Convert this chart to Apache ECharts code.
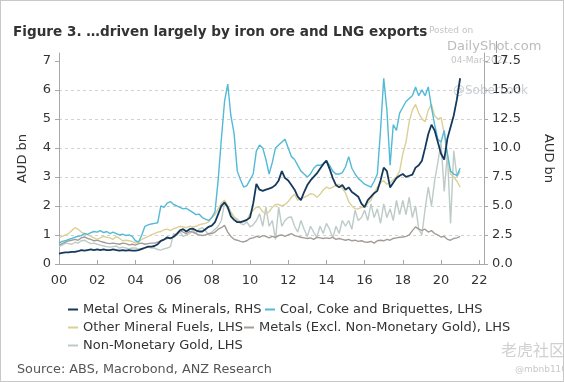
<!DOCTYPE html>
<html><head><meta charset="utf-8">
<script src="https://cdn.jsdelivr.net/npm/echarts@6/dist/echarts.min.js"></script>
<style>
html,body{margin:0;padding:0;background:#fff;}
#wrap{position:absolute;left:0;top:0;width:562px;height:380px;border:1px solid #c8c8c8;}
#c{width:562px;height:380px;}
</style></head><body>
<div id="wrap"><div id="c"></div></div>
<script>
// Bimonthly observations, Jan 2000 .. Jan 2021 (6 per year)
const startYear = 2000;
const perYear = 6;
const xTicks = [2000,2002,2004,2006,2008,2010,2012,2014,2016,2018,2020,2022];
const leftTicks = [0,1,2,3,4,5,6,7];
const rightTicks = [0,2.5,5,7.5,10,12.5,15,17.5];

// Metal Ores & Minerals, RHS (AUD bn)
const metalOres = [
 0.9,0.95,1.0,1.0,1.05,1.05,
 1.1,1.2,1.15,1.2,1.25,1.2,
 1.25,1.2,1.25,1.2,1.2,1.25,
 1.2,1.15,1.2,1.15,1.2,1.15,
 1.15,1.2,1.3,1.4,1.5,1.5,
 1.55,1.7,2.0,2.1,2.3,2.2,
 2.35,2.6,2.9,3.0,2.8,3.0,
 3.05,2.9,2.8,2.8,3.0,3.2,
 3.3,3.6,4.3,5.0,5.3,4.9,
 4.1,3.8,3.6,3.6,3.7,3.8,
 4.0,5.2,6.9,6.4,6.3,6.4,
 6.5,6.6,6.8,7.2,8.0,7.4,
 7.2,6.8,6.4,5.8,5.5,6.2,
 6.8,7.2,7.5,7.8,8.2,8.6,
 8.9,8.2,7.4,6.8,6.6,6.8,
 6.4,6.6,6.2,6.0,5.8,5.2,
 4.9,5.5,5.8,6.1,6.3,7.2,
 8.3,8.0,6.6,7.0,7.4,7.6,
 7.75,7.5,7.6,7.7,8.3,8.5,
 8.9,10.0,11.2,12.0,11.5,10.5,
 9.5,9.0,10.8,11.8,12.8,14.2,
 16.0];
// Coal, Coke and Briquettes, LHS
const coal = [
 0.72,0.78,0.80,0.85,0.88,0.92,
 0.95,0.98,1.05,1.02,1.08,1.12,
 1.10,1.15,1.08,1.12,1.05,1.10,
 1.05,1.00,1.03,0.98,1.00,0.95,
 0.80,0.76,1.00,1.30,1.35,1.38,
 1.40,1.42,2.00,1.95,2.10,2.15,
 2.05,2.00,1.95,1.90,1.92,1.85,
 1.78,1.70,1.72,1.60,1.55,1.50,
 1.60,1.80,2.90,4.30,5.60,6.20,
 5.10,4.50,3.20,2.90,2.65,2.70,
 2.90,3.10,3.90,4.10,4.00,3.60,
 3.10,3.50,4.00,4.10,4.20,4.30,
 4.00,3.70,3.60,3.40,3.20,3.10,
 3.00,3.10,3.30,3.40,3.40,3.45,
 3.55,3.40,3.20,3.10,3.10,3.15,
 3.35,3.70,3.30,3.10,2.95,2.85,
 2.75,2.70,2.65,2.85,3.10,4.60,
 6.40,5.30,3.40,4.80,4.60,5.20,
 5.40,5.60,5.70,5.80,6.10,5.80,
 6.00,5.80,6.10,5.40,4.80,4.30,
 4.20,4.60,3.80,3.20,3.10,3.05,
 3.30];
// Other Mineral Fuels, LHS
const otherFuels = [
 0.90,0.95,1.00,1.05,1.15,1.25,
 1.20,1.10,1.05,1.00,0.95,0.90,
 0.85,0.90,0.95,0.92,0.90,0.85,
 0.95,0.88,0.80,0.82,0.80,0.78,
 0.72,0.75,0.85,0.90,0.95,1.00,
 1.05,1.10,1.12,1.18,1.20,1.15,
 1.22,1.25,1.30,1.28,1.25,1.30,
 1.28,1.30,1.35,1.38,1.40,1.45,
 1.60,1.70,1.90,2.10,2.20,2.00,
 1.80,1.62,1.55,1.45,1.45,1.50,
 1.73,1.85,1.96,1.95,1.80,1.73,
 1.80,1.95,2.05,2.05,2.00,2.05,
 2.15,2.30,2.40,2.20,2.25,2.30,
 2.35,2.42,2.40,2.30,2.40,2.55,
 2.65,2.60,2.65,2.70,2.75,2.60,
 2.45,2.15,2.00,1.90,1.90,1.95,
 1.96,2.10,2.20,2.45,2.65,2.80,
 2.87,2.75,2.80,2.90,3.00,3.20,
 3.80,4.20,4.90,5.30,5.50,5.20,
 5.00,4.90,5.30,5.50,5.10,5.00,
 5.04,4.50,3.70,3.10,3.00,2.85,
 2.65];
// Metals (Excl. Non-Monetary Gold), LHS
const metals = [
 0.65,0.70,0.75,0.80,0.82,0.85,
 0.82,0.90,0.93,0.88,0.85,0.80,
 0.82,0.78,0.75,0.72,0.70,0.72,
 0.70,0.68,0.72,0.70,0.66,0.68,
 0.65,0.70,0.72,0.68,0.70,0.72,
 0.72,0.75,0.80,0.85,0.88,0.90,
 0.93,1.00,1.16,1.10,1.05,1.12,
 1.10,1.05,1.00,0.98,1.00,1.05,
 1.05,1.10,1.20,1.25,1.33,1.10,
 0.95,0.85,0.82,0.78,0.76,0.80,
 0.88,0.90,0.95,0.92,0.98,0.95,
 0.90,0.95,0.92,0.98,1.00,0.95,
 1.00,1.05,0.98,0.95,0.92,0.90,
 0.88,0.90,0.85,0.92,0.90,0.88,
 0.90,0.88,0.92,0.85,0.88,0.85,
 0.82,0.85,0.80,0.82,0.78,0.80,
 0.76,0.75,0.78,0.72,0.80,0.82,
 0.80,0.85,0.82,0.88,0.90,0.92,
 0.93,0.95,1.00,1.15,1.28,1.20,
 1.16,1.20,1.10,1.15,1.05,1.00,
 0.93,0.95,0.85,0.82,0.88,0.90,
 0.95];
// Non-Monetary Gold, LHS
const gold = [
 0.60,0.65,0.72,0.70,0.68,0.75,
 0.72,0.80,0.82,0.75,0.70,0.72,
 0.68,0.65,0.62,0.60,0.58,0.60,
 0.62,0.55,0.58,0.55,0.52,0.55,
 0.55,0.52,0.50,0.55,0.58,0.55,
 0.55,0.50,0.48,0.52,0.55,0.60,
 1.05,1.00,1.10,0.95,1.00,1.05,
 1.16,1.05,1.20,1.25,1.15,1.00,
 1.10,1.20,1.30,1.50,2.10,1.90,
 1.75,1.62,1.50,1.40,1.35,1.45,
 1.28,1.35,1.50,1.73,1.30,1.96,
 1.30,1.50,0.85,1.96,1.30,1.50,
 1.60,1.62,1.30,1.10,1.50,1.20,
 0.95,1.30,1.10,0.93,1.30,1.05,
 1.40,1.20,0.90,1.30,1.05,1.50,
 1.30,1.50,1.20,1.85,1.50,1.60,
 1.85,1.50,2.07,1.60,1.90,1.40,
 2.07,1.60,1.90,1.50,2.19,1.70,
 2.19,1.70,2.30,1.60,2.00,1.20,
 1.00,1.90,2.65,2.00,2.87,3.50,
 4.20,2.50,3.80,1.40,3.90,3.00,
 3.20];

const names = ['Metal Ores & Minerals, RHS','Coal, Coke and Briquettes, LHS','Other Mineral Fuels, LHS','Metals (Excl. Non-Monetary Gold), LHS','Non-Monetary Gold, LHS'];
const colors = ['#14395c','#52b9d6','#dcd096','#a39c96','#bccbc7'];

function pairs(arr){ return arr.map((v,i)=>[startYear + i/perYear, v]); }

const FONT = 'DejaVu Sans';
const chart = echarts.init(document.getElementById('c'), null, {renderer:'canvas'});
const lmax = 7.27, rmax = lmax*2.5;

const legendPos = [[67,302],[264,302],[67,320],[243,320],[67,338]];
const legends = names.map((n,i)=>({
  data:[n], left:legendPos[i][0], top:legendPos[i][1], icon:'rect', itemWidth:10, itemHeight:2,
  itemGap:0, padding:0, textStyle:{fontFamily:FONT,fontSize:13,color:'#333'}, selectedMode:false
}));

const seriesData = [metalOres, coal, otherFuels, metals, gold];
const zs = [10,8,7,6,5];
chart.setOption({
  animation:false,
  textStyle:{fontFamily:FONT},
  title:{text:'Figure 3. …driven largely by iron ore and LNG exports', left:7, top:19,
    textStyle:{fontFamily:FONT,fontWeight:'bold',fontSize:13.6,color:'#333'}},
  legend: legends,
  grid:{left:58,right:67,top:52,bottom:117},
  xAxis:{type:'value',min:2000,max:2022.25,interval:2,
    axisLine:{lineStyle:{color:'#a8a8a8'}},
    axisTick:{inside:true,length:4,lineStyle:{color:'#a8a8a8'},customValues:xTicks},
    axisLabel:{customValues:xTicks,margin:10,fontSize:13,color:'#333',fontFamily:FONT,
      formatter:v=>String(Math.round(v)%100).padStart(2,'0')},
    splitLine:{show:false}},
  yAxis:[
    {type:'value',min:0,max:lmax,interval:1,position:'left',
     name:'AUD bn',nameLocation:'middle',nameGap:30,
     nameTextStyle:{fontFamily:FONT,fontSize:13,color:'#333'},
     axisLine:{show:true,lineStyle:{color:'#a8a8a8'}},
     axisTick:{show:true,length:4,lineStyle:{color:'#a8a8a8'},customValues:leftTicks},
     axisLabel:{customValues:leftTicks,margin:8,fontSize:13,color:'#333',fontFamily:FONT},
     splitLine:{show:true,showMaxLine:false,lineStyle:{color:'#d2d2d2',type:[3,3]}}},
    {type:'value',min:0,max:rmax,interval:2.5,position:'right',
     name:'AUD bn',nameLocation:'middle',nameGap:58,nameRotate:-90,
     nameTextStyle:{fontFamily:FONT,fontSize:13,color:'#333'},
     axisLine:{show:true,lineStyle:{color:'#a8a8a8'}},
     axisTick:{show:true,length:4,lineStyle:{color:'#a8a8a8'},customValues:rightTicks},
     axisLabel:{customValues:rightTicks,margin:8,fontSize:13,color:'#333',fontFamily:FONT,
       formatter:v=>v.toFixed(1)},
     splitLine:{show:false}}
  ],
  series: names.map((n,i)=>({
    name:n,type:'line',yAxisIndex:i===0?1:0,data:pairs(seriesData[i]),
    showSymbol:false,symbol:'none',z:zs[i],
    lineStyle:{color:colors[i],width:i===0?1.8:1.4},itemStyle:{color:colors[i]}
  })),
  graphic:[
    {type:'line',shape:{x1:495.5,y1:40,x2:495.5,y2:52},style:{stroke:'#a8a8a8',lineWidth:1}},
    {type:'text',left:428,top:25,z:-1,style:{text:'Posted on',fontFamily:FONT,fontSize:9,fill:'#c4c4c4'}},
    {type:'text',left:446,top:39,z:-1,style:{text:'DailyShot.com',fontFamily:FONT,fontSize:13,fill:'#bcbcbc'}},
    {type:'text',left:450,top:55,z:-1,style:{text:'04-Mar-2021',fontFamily:FONT,fontSize:9,fill:'#c4c4c4'}},
    {type:'text',left:452,top:84,z:-1,style:{text:'@SoberLook',fontFamily:FONT,fontSize:12,fill:'#c8ccd4'}},
    {type:'text',left:16,top:362,style:{text:'Source: ABS, Macrobond, ANZ Research',fontFamily:FONT,fontSize:12.8,fill:'#555'}},
    {type:'text',left:500,top:341,style:{text:'老虎社区',fontFamily:'Noto Sans CJK SC',fontSize:16,fill:'#d0d0d0'}},
    {type:'text',left:514,top:364,style:{text:'@mbnb1101',fontFamily:FONT,fontSize:9,fill:'#c8c8c8'}}
  ]
});
</script></body></html>
